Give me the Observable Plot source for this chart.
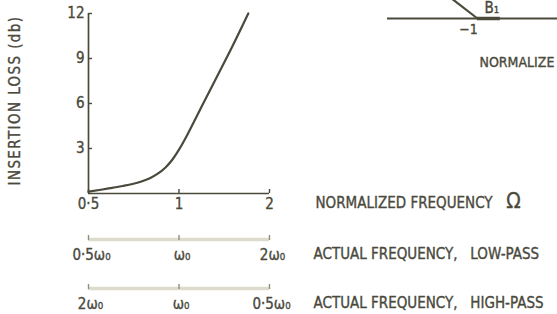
<!DOCTYPE html>
<html><head><meta charset="utf-8">
<script src="https://cdn.jsdelivr.net/npm/d3@7"></script>
<script src="https://cdn.jsdelivr.net/npm/@observablehq/plot@0.6"></script>
<style>
html,body{margin:0;padding:0;background:#fff;overflow:hidden;}
#wrap{position:relative;width:557px;height:314px;overflow:hidden;background:#fff;}
#wrap svg{position:absolute;top:0;overflow:hidden;}
</style></head><body><div id="wrap"></div>
<script>
// Insertion loss curve (normalized frequency Ω, log axis)
const freq = [0.5, 0.55, 0.6, 0.65, 0.7, 0.75, 0.8, 0.85, 0.9, 0.95, 1.0, 1.05, 1.1, 1.2, 1.35, 1.5, 1.7];
const loss = [0.12, 0.25, 0.38, 0.5, 0.63, 0.8, 1.02, 1.32, 1.72, 2.25, 2.92, 3.66, 4.45, 5.95, 7.95, 9.75, 12];
const yTicks = [3, 6, 9, 12];
const xTicks = [0.5, 1, 2];
const xTickLabels = ["0·5", "1", "2"];
const lowPassLabels = ["0·5ω₀", "ω₀", "2ω₀"];
const highPassLabels = ["2ω₀", "ω₀", "0·5ω₀"];
const yLabel = "INSERTION LOSS (db)";
const rowLabels = ["NORMALIZED FREQUENCY", "ACTUAL FREQUENCY,\u00a0\u00a0\u00a0LOW-PASS", "ACTUAL FREQUENCY,\u00a0\u00a0\u00a0HIGH-PASS"];
const omegaSymbol = "Ω";
// fragment of the neighbouring (complex-plane) figure, top right
const realAxis = [-2.5, 0.45];
const b1Line = [[-1.7, 0.54], [-1, 0]];
const b1Segment = [-1, -0.62];
const fragLabels = ["B₁", "−1", "NORMALIZE"];

const ink = "#4a493c";
const light = "#dddccc";
const tickGray = "#8e8d7e";
const font = "'DejaVu Sans Condensed','Liberation Sans Narrow','Arial Narrow',sans-serif";
const T = {fill: ink, stroke: ink, strokeWidth: 0.35};
const data = freq.map((f, i) => ({f, l: loss[i]}));

const main = Plot.plot({
  width: 557, height: 314, margin: 0,
  style: {fontFamily: font, fontSize: "15px", color: ink, background: "transparent", overflow: "hidden"},
  x: {type: "log", domain: [0.5, 2], range: [88, 269], axis: null},
  y: {domain: [0, 12], range: [193, 13], axis: null},
  marks: [
    Plot.ruleX([0.5], {y1: 0, y2: 12, stroke: ink, strokeWidth: 1.7}),
    Plot.ruleY([0], {x1: 0.5, x2: 2, stroke: ink, strokeWidth: 1.7}),
    Plot.ruleY(yTicks, {y: d => d, insetLeft: 88, insetRight: 465, stroke: ink, strokeWidth: 1.4}),
    Plot.ruleX(xTicks, {x: d => d, insetTop: 189, insetBottom: 121, stroke: ink, strokeWidth: 1.4}),
    Plot.text(yTicks, {...T, x: 0.5, y: d => d, text: d => String(d), textAnchor: "end", dx: -4, fontSize: 15}),
    Plot.text(xTicks, {...T, x: d => d, y: 0, text: (d, i) => xTickLabels[i], dy: 11, fontSize: 15}),
    Plot.line(data, {x: "f", y: "l", curve: "monotone-x", stroke: ink, strokeWidth: 2.2}),
    Plot.text([yLabel], {...T, x: 0.5, y: 6, dx: -73, dy: -3, rotate: -90, fontSize: 15}),
    // low-pass actual frequency scale
    Plot.ruleY([0], {x1: 0.5, x2: 2, dy: 46, stroke: light, strokeWidth: 3.5}),
    Plot.ruleX(xTicks, {x: d => d, insetTop: 189, insetBottom: 120, dy: 46, stroke: tickGray, strokeWidth: 1.4}),
    Plot.text(xTicks, {...T, x: d => d, y: 0, text: (d, i) => lowPassLabels[i], dy: 62, dx: 3, fontSize: 15}),
    // high-pass actual frequency scale
    Plot.ruleY([0], {x1: 0.5, x2: 2, dy: 95, stroke: light, strokeWidth: 3.5}),
    Plot.ruleX(xTicks, {x: d => d, insetTop: 189, insetBottom: 120, dy: 95, stroke: tickGray, strokeWidth: 1.4}),
    Plot.text(xTicks, {...T, x: d => d, y: 0, text: (d, i) => highPassLabels[i], dy: 111, dx: 2, fontSize: 15}),
    // row labels
    Plot.text([rowLabels[0]], {...T, x: 2, y: 0, dx: 46, dy: 10, textAnchor: "start"}),
    Plot.text([omegaSymbol], {...T, x: 2, y: 0, dx: 244, dy: 8, fontSize: 21}),
    Plot.text([rowLabels[1]], {...T, x: 2, y: 0, dx: 44, dy: 61, textAnchor: "start"}),
    Plot.text([rowLabels[2]], {...T, x: 2, y: 0, dx: 44, dy: 110, textAnchor: "start"})
  ]
});
main.style.left = "0px";
d3.select(main).selectAll("text").filter(function () { return this.textContent === yLabel; })
  .attr("letter-spacing", "1.4");
document.getElementById("wrap").appendChild(main);

const frag = Plot.plot({
  width: 177, height: 80, margin: 0,
  style: {fontFamily: font, fontSize: "15px", color: ink, background: "transparent", overflow: "hidden"},
  x: {domain: realAxis, range: [7, 184], axis: null},
  y: {domain: [0, 1], range: [18, -42], axis: null},
  marks: [
    Plot.ruleY([0], {x1: realAxis[0], x2: realAxis[1], stroke: ink, strokeWidth: 2}),
    Plot.line(b1Line, {stroke: ink, strokeWidth: 2.2}),
    Plot.ruleY([0], {x1: b1Segment[0], x2: b1Segment[1], stroke: ink, strokeWidth: 3.5}),
    Plot.text([fragLabels[0]], {...T, x: -0.76, y: 0, dy: -10, fontSize: 15}),
    Plot.text([fragLabels[1]], {...T, x: -1, y: 0, dx: -9, dy: 11, fontSize: 14}),
    Plot.text([fragLabels[2]], {...T, x: -1, y: 0, dx: 2, dy: 44, textAnchor: "start", fontSize: 14})
  ]
});
frag.style.left = "380px";
document.getElementById("wrap").appendChild(frag);
</script></body></html>
